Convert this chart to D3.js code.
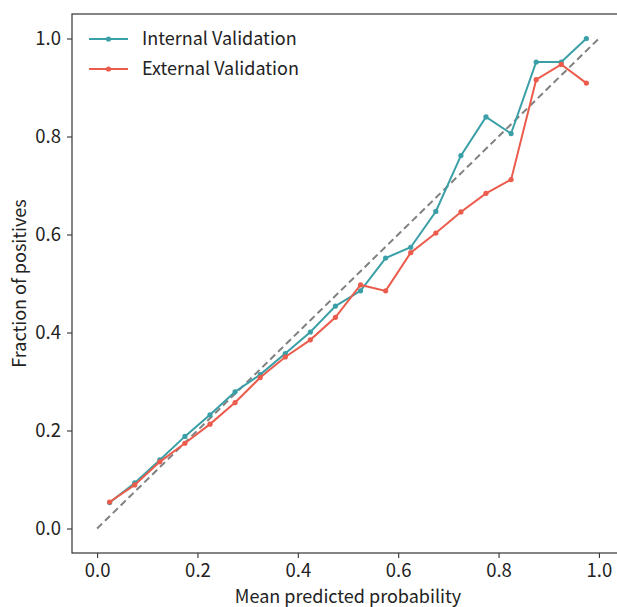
<!DOCTYPE html>
<html>
<head>
<meta charset="utf-8">
<script src="https://cdn.jsdelivr.net/npm/d3@7"></script>
<style>
  body { margin: 0; background: #fff; }
  svg { display: block; font-family: "Noto Sans CJK KR", "Noto Sans", sans-serif; }
</style>
</head>
<body>
<svg id="drawing_region"></svg>
<script>
// bin centres (mean predicted probability)
const binX = [0.025, 0.075, 0.125, 0.175, 0.225, 0.275, 0.325, 0.375, 0.425, 0.475,
              0.525, 0.575, 0.625, 0.675, 0.725, 0.775, 0.825, 0.875, 0.925, 0.975];
const internalY = [0.053, 0.093, 0.140, 0.188, 0.232, 0.279, 0.314, 0.357, 0.401, 0.454,
                   0.485, 0.552, 0.574, 0.647, 0.761, 0.840, 0.806, 0.952, 0.952, 1.000];
const externalY = [0.054, 0.089, 0.136, 0.174, 0.213, 0.257, 0.308, 0.350, 0.385, 0.431,
                   0.497, 0.485, 0.563, 0.603, 0.646, 0.684, 0.712, 0.916, 0.947, 0.909];
const tickValues = [0.0, 0.2, 0.4, 0.6, 0.8, 1.0];
const seriesNames = ['Internal Validation', 'External Validation'];
const seriesColors = ['#3a9fa6', '#eb5c4c'];

const config = {
    width: 617,
    height: 607,
    margin: {top: 14, left: 72, bottom: 54}
};

const svg = d3.select('#drawing_region')
    .attr('width', config.width)
    .attr('height', config.height);

// matplotlib-like square axes, right edge runs past the window
const inner_height = config.height - config.margin.top - config.margin.bottom;
const inner_width = 552;

const xscale = d3.scaleLinear().domain([-0.05, 1.05]).range([0, inner_width]);
const yscale = d3.scaleLinear().domain([-0.05, 1.05]).range([inner_height, 0]);

const chart = svg.append('g')
    .attr('transform', `translate(${config.margin.left}, ${config.margin.top})`);

// perfect calibration
chart.append('line')
    .attr('x1', xscale(0)).attr('y1', yscale(0))
    .attr('x2', xscale(1)).attr('y2', yscale(1))
    .attr('stroke', '#808080')
    .attr('stroke-width', 2)
    .attr('stroke-dasharray', '7,4');

const series = [internalY, externalY].map((ys, i) => ({
    name: seriesNames[i],
    color: seriesColors[i],
    points: binX.map((x, j) => ({x: x, y: ys[j]}))
}));

const line = d3.line().x(d => xscale(d.x)).y(d => yscale(d.y));

series.forEach(s => {
    chart.append('path')
        .datum(s.points)
        .attr('fill', 'none')
        .attr('stroke', s.color)
        .attr('stroke-width', 2)
        .attr('d', line);
    chart.selectAll(null)
        .data(s.points)
        .enter()
        .append('circle')
        .attr('cx', d => xscale(d.x))
        .attr('cy', d => yscale(d.y))
        .attr('r', 2.6)
        .attr('fill', s.color);
});

// frame
chart.append('rect')
    .attr('width', inner_width)
    .attr('height', inner_height)
    .attr('fill', 'none')
    .attr('stroke', '#333')
    .attr('stroke-width', 1.2);

const xaxis = d3.axisBottom(xscale).tickValues(tickValues).tickFormat(d3.format('.1f')).tickSize(5).tickPadding(6);
const yaxis = d3.axisLeft(yscale).tickValues(tickValues).tickFormat(d3.format('.1f')).tickSize(5).tickPadding(6);

const xaxis_group = chart.append('g')
    .attr('transform', `translate(0, ${inner_height})`)
    .call(xaxis);
const yaxis_group = chart.append('g').call(yaxis);

[xaxis_group, yaxis_group].forEach(g => {
    g.select('.domain').remove();
    g.selectAll('.tick line').attr('stroke', '#333').attr('stroke-width', 1.1);
    g.selectAll('.tick text')
        .attr('fill', '#222')
        .style('font-size', '18.5px')
        .style('font-family', '"Noto Sans CJK KR", sans-serif');
});

svg.append('text')
    .attr('x', config.margin.left + xscale(0.5))
    .attr('y', 603)
    .attr('text-anchor', 'middle')
    .attr('fill', '#222')
    .style('font-size', '18px')
    .text('Mean predicted probability');

svg.append('text')
    .attr('transform', 'rotate(-90)')
    .attr('x', -(config.margin.top + yscale(0.5)))
    .attr('y', 26)
    .attr('text-anchor', 'middle')
    .attr('fill', '#222')
    .style('font-size', '18px')
    .text('Fraction of positives');

// legend
const legend = svg.append('g').attr('transform', 'translate(89, 39)');
series.forEach((s, i) => {
    const row = legend.append('g').attr('transform', `translate(0, ${i * 30})`);
    row.append('line')
        .attr('x1', 0).attr('x2', 39)
        .attr('stroke', s.color)
        .attr('stroke-width', 2);
    row.append('circle')
        .attr('cx', 19.5).attr('r', 2.6)
        .attr('fill', s.color);
    row.append('text')
        .attr('x', 53)
        .attr('dy', '0.35em')
        .attr('fill', '#222')
        .style('font-size', '18px')
        .text(s.name);
});
</script>
</body>
</html>
